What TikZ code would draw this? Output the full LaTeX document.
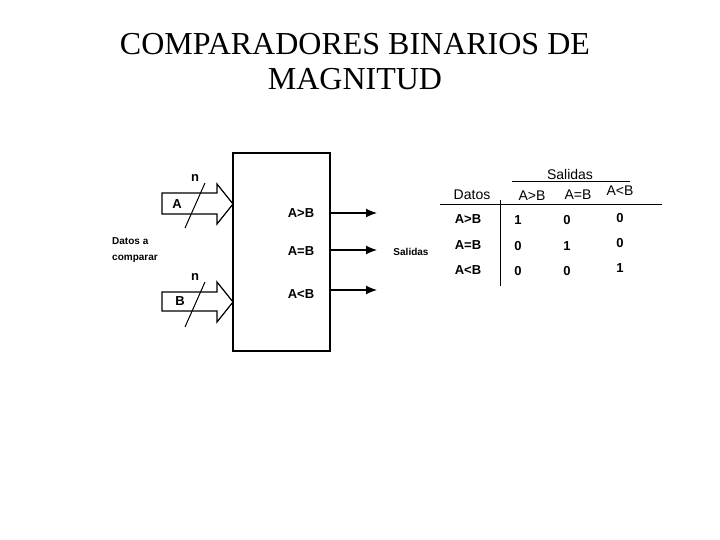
\documentclass[tikz,border=0pt]{standalone}
\usepackage{fontspec}
\setmainfont{Liberation Serif}
\newfontfamily\ars{Liberation Sans}
\begin{document}
\begin{tikzpicture}[x=1pt,y=-1pt,
  lb/.style={font=\ars\bfseries\fontsize{13}{15}\selectfont,inner sep=0},
  ln/.style={line width=1.2pt},
  ar/.style={line width=1.2pt,-{Latex[length=11pt,width=9pt]}}]
\usetikzlibrary{arrows.meta}
\useasboundingbox (0,0) rectangle (720,540);
\node[font=\fontsize{32}{35}\selectfont,align=center] (title) at (355,62) {COMPARADORES BINARIOS DE\\MAGNITUD};
\node[draw,ln,minimum width=97pt,minimum height=198pt,inner sep=0] (box) at (281.5,252) {};
% input A
\draw[ln] (162,193) -- (217,193) -- (217,184) -- (233,204) -- (217,224) -- (217,214) -- (162,214) -- cycle;
\coordinate (sa1) at (185,228); \coordinate (sa2) at (205,183);
\draw[line width=1pt] (sa1) -- (sa2);
\node[lb] (nA) at (195,178) {n};
\node[lb] (A) at (177,204) {A};
% input B
\draw[ln] (162,292) -- (217,292) -- (217,282) -- (233,302) -- (217,322) -- (217,311) -- (162,311) -- cycle;
\coordinate (sb1) at (185,327); \coordinate (sb2) at (205,282);
\draw[line width=1pt] (sb1) -- (sb2);
\node[lb] (nB) at (195,277) {n};
\node[lb] (B) at (180,301) {B};
\node[lb,font=\ars\bfseries\fontsize{10}{16}\selectfont,align=left,anchor=west] (datos) at (112,250) {Datos a\\comparar};
% outputs
\node[lb] (o1) at (301,213) {A>B};
\node[lb] (o2) at (301,251) {A=B};
\node[lb] (o3) at (301,294) {A<B};
\coordinate (e1) at (377,213); \coordinate (e2) at (377,250); \coordinate (e3) at (377,290);
\draw[ar] (box.east |- e1) -- (e1);
\draw[ar] (box.east |- e2) -- (e2);
\draw[ar] (box.east |- e3) -- (e3);
\node[lb,font=\ars\bfseries\fontsize{10}{12}\selectfont] (sal) at (411,252) {Salidas};
% table
\node[lb,font=\ars\fontsize{14}{16}\selectfont] (ts) at (570,174) {Salidas};
\draw[line width=1pt] (512,182) -- (630,182);
\node[lb,font=\ars\fontsize{14}{16}\selectfont] (td) at (472,195) {Datos};
\node[lb,font=\ars\fontsize{14}{16}\selectfont] (h1) at (532,196) {A>B};
\node[lb,font=\ars\fontsize{14}{16}\selectfont] (h2) at (578,195) {A=B};
\node[lb,font=\ars\fontsize{14}{16}\selectfont] (h3) at (620,191) {A<B};
\draw[line width=1pt] (440,205) -- (662,205);
\draw[line width=1pt] (500,200) -- (500,286);
\node[lb] (r1) at (468,219) {A>B};
\node[lb] (r2) at (468,245) {A=B};
\node[lb] (r3) at (468,270) {A<B};
\node[lb] at (518,220) {1}; \node[lb] at (567,220) {0}; \node[lb] at (620,218) {0};
\node[lb] at (518,246) {0}; \node[lb] at (567,246) {1}; \node[lb] at (620,243) {0};
\node[lb] at (518,271) {0}; \node[lb] at (567,271) {0}; \node[lb] at (620,268) {1};
\end{tikzpicture}
\end{document}
